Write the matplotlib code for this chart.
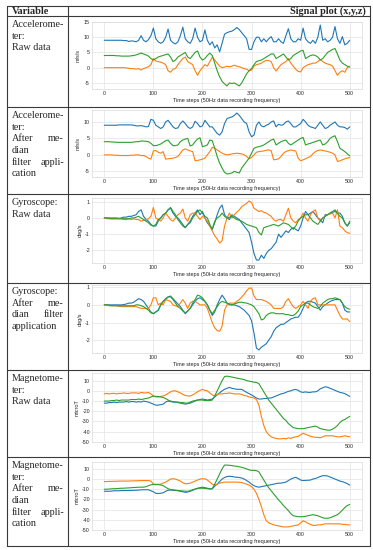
import numpy as np
import matplotlib
matplotlib.use('Agg')
import matplotlib.pyplot as plt
from matplotlib.ticker import MultipleLocator
import seaborn as sns

sns.set_style('whitegrid')
plt.rcParams['font.family'] = ['Liberation Sans', 'DejaVu Sans']
plt.rcParams['axes.unicode_minus'] = False

# time steps (samples read every 5 steps)
t = list(range(0, 501, 5))

# accelerometer, raw
acc_raw_x = [9, 9, 9, 9, 9, 9, 9, 9, 8.9, 8.9,
             8.6, 8.8, 8.7, 8.5, 9, 10.5, 9, 8.5, 9.2, 10.5,
             13, 9.5, 8.5, 8, 8.5, 10, 12.7, 9, 8.2, 7.8,
             8.5, 10.5, 13.3, 9.5, 8.5, 8, 9.5, 13, 10, 8.5,
             9, 12.4, 9, 7.5, 8.5, 6.5, 7.5, 5.2, 8, 11,
             11.5, 11.8, 12, 12.5, 13.2, 12.5, 11.5, 10.5, 9.5, 6,
             6, 8.5, 10, 10, 8.5, 9.5, 8.5, 9.5, 10.2, 8.5,
             8.5, 9.5, 8.5, 8, 10.5, 12.8, 9.5, 8.5, 8.5, 9.5,
             9, 13, 9.5, 8.5, 8, 9, 8, 10, 14, 9,
             9.5, 8.5, 9, 10, 13.5, 9.5, 8, 10.2, 7.5, 8,
             9]
acc_raw_y = [0, 0, 0, 0, 0, 0, 0, 0, 0, -0.1,
             -0.2, -0.3, -0.3, -0.5, -0.3, -0.8, -0.3, 0, 0.3, 1,
             3, 2.2, 2, 1.8, 1.5, 1, -1, -1.5, -0.5, -0.3,
             1, 2, 3, 3.5, 2, 1.5, 1, -1, -2.5, -1,
             0, 1, 0.5, 2, 3.5, 2.5, 1.5, 0.5, 0, 0.2,
             0.5, 0.3, 0.5, 0.8, 0.5, 0.3, 0, -0.3, -0.5, -1,
             -0.8, 0.5, 1, 1.2, 1.5, 2, 2.4, 2.3, 2, 0,
             -1.1, 0, 1, 1.5, 2, 3, 1.5, 0.5, -0.5, -1.2,
             -1.4, 0, 0.5, 1, 1.2, 1.5, 1.5, 2, 2.7, 2,
             1.5, 1.2, 1, 0.5, -1, -2.5, -1.5, -1, -1.5, 0,
             0.5]
acc_raw_z = [4, 4, 4, 4, 4, 3.9, 3.9, 3.8, 3.8, 3.8,
             3.8, 3.9, 4, 4.2, 4.5, 4.8, 4.5, 4.2, 3.8, 3,
             2.5, 3, 3.5, 3.8, 4, 4.3, 4.5, 3.5, 2, 2.5,
             3.5, 4, 4.5, 5, 3.5, 3, 4, 5, 5.5, 3.5,
             2.5, 3, 4, 4.8, 4, 1.5, -1, -3, -4.5, -5.3,
             -6, -5, -5.2, -5, -5.5, -6, -5, -3.5, -2, -1,
             -0.3, 1, 2, 2.3, 2.5, 3, 3.5, 4, 4.5, 4.5,
             3, 3.5, 4, 4.5, 3.5, 2.5, 3, 4, 4.5, 5,
             5.5, 5.7, 3, 3.5, 4, 4.2, 4, 3.5, 2.5, 3,
             4, 5, 5.5, 6, 6.3, 4.5, 2.5, 1.5, 1, 0.5,
             0.2]

# accelerometer, median filtered
acc_filt_x = [9, 9, 9, 9, 9, 9, 9.1, 9.1, 9.1, 9.1,
              9.1, 9.1, 9, 8.8, 8.8, 8.9, 8.7, 8.5, 8.6, 10.8,
              10.5, 9, 8.5, 8, 8.5, 10, 10.5, 9.5, 8.5, 8,
              8.2, 9.5, 10.3, 9.5, 8.5, 8, 8.5, 10.2, 9.5, 8.5,
              8.8, 10.5, 9.5, 8.5, 8.5, 7.5, 6.5, 6, 7, 9.5,
              11, 11.3, 11.5, 12, 12.7, 12, 11, 10, 9.5, 7,
              5.5, 6, 9, 10, 8.8, 8.5, 9, 9.3, 10, 10.3,
              8.5, 9.3, 9, 9.2, 10, 10.3, 9.5, 8.5, 8.5, 9,
              9.5, 10.8, 10, 9, 8.5, 8.3, 8, 9, 10, 9,
              8, 8.3, 9, 9.5, 10, 9, 8.5, 8.5, 8.3, 7.8,
              8.5]
acc_filt_y = [0, 0, 0, 0, -0.1, -0.1, -0.2, -0.2, -0.2, -0.2,
              -0.2, -0.1, -0.1, 0, 0, -0.2, -0.2, -0.5, -1, -1.3,
              1.2, 1.3, 0.8, 0.5, 1, -1.3, -1.2, -1.1, -1, -0.8,
              -0.5, 0.5, 1.5, 1.8, 1.5, 1.2, 1, -1.8, -1.7, -1.5,
              -1.3, -1, 0, 1, 2.3, 2, 1.5, 1, 0.5, 0.2,
              0, 0.1, 0.3, 0.4, 0.5, 0.4, 0.3, 0, -0.5, -1.2,
              -0.8, 0, 0.8, 1, 1.1, 1.2, 1.4, 1.5, 1.3, -1.5,
              -1.4, -1.2, -0.5, 0.5, 1, 1.3, 1.5, 1.3, 1.2, -1,
              -1.8, -1.5, -1.2, -0.8, -0.5, 0.3, 1, 1.3, 1.5, 1.3,
              1.2, 1, 0.8, 0.5, 0, -2, -1.8, -1.5, -1.2, -1,
              -0.8]
acc_filt_z = [4, 4, 4, 3.9, 3.9, 3.8, 3.8, 3.8, 3.8, 3.8,
              3.8, 3.8, 3.9, 4, 4, 4.2, 4.2, 4.1, 4, 3.5,
              2.8, 2.8, 3, 3.3, 3.8, 4.3, 4.5, 3.5, 2.8, 2.8,
              3, 4, 4.5, 4.8, 5, 2.7, 3, 4, 4.8, 5.2,
              2.5, 2.7, 3, 4.5, 4.3, 2, -0.5, -2.5, -4, -5.3,
              -5.8, -5.7, -5.5, -5, -5.3, -5.5, -4, -3, -2, -1,
              0.5, 2, 2.3, 2.5, 2.7, 3, 3.5, 4, 4.5, 4.8,
              3, 3.5, 4, 4.3, 4.5, 3.5, 3, 3.5, 4, 4.5,
              5, 5.3, 3, 3.3, 3.5, 3.8, 4, 4.3, 4.5, 3,
              3.3, 4, 5, 5.5, 5.8, 4, 2, 1.5, 1, 0.3,
              -0.3]

# gyroscope, raw
gyr_raw_x = [0, 0, 0, 0, 0, 0, -0.02, 0, 0.05, 0.05,
             0.1, 0.1, 0.15, 0.2, 0.4, 0.5, 0.1, -0.1, -0.2, -0.4,
             -0.5, -0.5, -0.2, 0, 0.2, 0.3, 0.5, 0.6, 0.3, 0.1,
             0, -0.2, -0.4, -0.6, -0.4, -0.2, 0.1, 0.3, 0.5, 0.2,
             0.4, 0, -0.3, -0.5, -0.7, -0.3, 0.2, 0.6, 0.8, 0.2,
             0, -0.1, 0.2, 0.1, 0, -0.1, -0.3, -0.5, -0.7, -0.9,
             -1.5, -2.2, -2.6, -2.6, -2.3, -2.5, -2.2, -2.0, -1.9, -1.7,
             -1.5, -1.0, -1.2, -1.0, -0.8, -0.9, -0.7, -0.6, -0.7, -0.8,
             -0.5, 0, 0.4, 0.2, 0.3, 0.4, 0.2, 0, -0.1, -0.3,
             0.2, 0.2, 0.3, 0.35, 0.4, 0.3, 0.3, 0.1, -0.3, -0.5,
             -0.3]
gyr_raw_y = [0, -0.05, -0.05, -0.05, -0.05, -0.05, -0.05, -0.05, -0.1, -0.1,
             -0.05, -0.1, -0.05, -0.1, -0.1, -0.2, -0.15, -0.1, -0.05, 0.1,
             0.65, 0, -0.1, -0.2, 0, 0.3, 0.1, -0.1, -0.2, 0,
             0.2, 0.3, 0.55, 0, -0.2, 0.2, 0.3, 0.3, 0.1, -0.1,
             0.1, 0, -0.2, -0.5, -0.8, -1.1, -1.3, -1.55, -1.4, -0.5,
             0, 0.3, 0, 0.2, 0.35, 0.5, 0.7, 0.8, 0.9, 1.05,
             0.95, 0.6, 0.5, 0.4, 0.45, 0.35, 0.3, 0.2, 0.1, -0.1,
             -0.2, -0.1, -0.1, -0.2, 0.2, 0.6, 0, -0.2, -0.3, -0.1,
             0, 0.3, 0, -0.2, 0.2, 0.4, 0.5, 0, -0.2, 0,
             0.1, 0.2, 0.25, 0.3, 0, 0.5, -0.5, -0.6, -0.8, -0.9,
             -0.95]
gyr_raw_z = [0, 0, -0.03, -0.05, -0.05, -0.05, -0.05, -0.05, -0.05, -0.05,
             -0.05, 0, 0, 0.05, 0.1, 0, -0.1, -0.2, -0.3, -0.45,
             -0.5, -0.4, -0.1, 0, 0.2, 0.3, 0.5, 0.65, 0.4, 0.2,
             -0.1, -0.3, -0.5, -0.6, -0.4, -0.3, 0, 0.2, 0.4, 0.5,
             0.3, 0.1, 0, -0.4, -0.7, -0.2, 0, 0.1, 0.3, 0.1,
             0, 0.05, 0.1, 0, -0.1, -0.15, -0.2, -0.3, -0.4, -0.45,
             -0.5, -0.55, -0.6, -0.9, -1.05, -0.6, -0.55, -0.5, -0.45, -0.4,
             -0.45, -0.5, -0.4, -0.3, -0.35, -0.4, -0.55, -0.7, -0.5, -0.2,
             0, 0.1, 0.2, 0.2, 0, -0.2, -0.3, -0.4, -0.2, 0,
             0.1, 0.2, 0.3, 0.4, 0.5, 0.3, 0.1, 0, -0.3, -0.5,
             -0.2]

# gyroscope, median filtered
gyr_filt_x = [0, 0, 0, 0, 0, 0, 0, 0, 0.02, 0.05,
              0.1, 0.1, 0.15, 0.25, 0.35, 0.3, 0.2, 0, -0.2, -0.4,
              -0.5, -0.4, -0.3, 0, 0.2, 0.3, 0.45, 0.5, 0.35, 0.2,
              0.05, -0.1, -0.3, -0.5, -0.35, -0.2, 0, 0.2, 0.35, 0.4,
              0.3, 0.2, 0, -0.3, -0.6, -0.4, 0, 0.3, 0.55, 0.35,
              0.1, 0, 0, 0, -0.05, -0.1, -0.2, -0.3, -0.45, -0.6,
              -0.9, -1.6, -2.45, -2.55, -2.4, -2.3, -2.2, -2.0, -1.8, -1.5,
              -1.3, -1.2, -1.1, -1.1, -1.0, -0.9, -0.8, -0.75, -0.7, -0.7,
              -0.5, -0.2, 0.1, 0.2, 0.2, 0.15, 0.1, -0.1, -0.3, -0.1,
              0, 0.1, 0.2, 0.25, 0.3, 0.3, 0.3, 0.1, -0.3, -0.4,
              -0.4]
gyr_filt_y = [0, -0.02, -0.05, -0.05, -0.05, -0.05, -0.08, -0.1, -0.1, -0.1,
              -0.1, -0.1, -0.1, -0.1, -0.15, -0.2, -0.2, -0.2, -0.2, 0,
              0.4, 0.4, 0, 0.1, 0, 0.3, 0.25, 0.2, 0, -0.05,
              -0.1, 0.1, 0.3, 0.1, -0.2, 0.1, 0.2, 0.2, 0.1, 0,
              0, 0, -0.2, -0.6, -1.0, -1.3, -1.45, -1.5, -1.2, -0.3,
              0, 0.1, 0.1, 0.1, 0.2, 0.3, 0.45, 0.6, 0.8, 0.95,
              0.95, 0.5, 0.3, 0.3, 0.3, 0.25, 0.2, 0.1, 0, -0.2,
              -0.2, -0.2, -0.2, -0.1, 0.2, 0.35, 0.1, -0.1, -0.2, -0.1,
              0, 0.2, 0, -0.2, 0.2, 0.35, 0.4, 0, 0, 0,
              0, 0, 0, 0, 0, -0.3, -0.6, -0.8, -0.8, -0.8,
              -0.95]
gyr_filt_z = [0, 0, -0.02, -0.05, -0.05, -0.05, -0.05, -0.05, -0.05, -0.05,
              -0.05, -0.05, -0.05, 0, 0, -0.05, -0.1, -0.2, -0.3, -0.45,
              -0.5, -0.4, -0.3, 0, 0.2, 0.35, 0.45, 0.45, 0.3, 0.1,
              -0.1, -0.2, -0.35, -0.45, -0.35, -0.2, 0.1, 0.3, 0.55, 0.5,
              0.4, 0.2, 0, -0.3, -0.5, -0.3, -0.1, 0.1, 0.2, 0.15,
              0.1, 0.05, 0, 0.05, 0.1, 0.15, 0.15, 0.12, 0.1, 0.05,
              0, -0.1, -0.3, -0.5, -0.85, -0.8, -0.6, -0.5, -0.45, -0.45,
              -0.5, -0.5, -0.5, -0.5, -0.55, -0.55, -0.6, -0.6, -0.5, -0.35,
              -0.1, 0, 0.1, 0.1, 0, -0.1, -0.15, -0.2, -0.1, 0.1,
              0.2, 0.3, 0.35, 0.35, 0.4, 0.35, 0.3, 0.1, -0.1, -0.2,
              -0.25]

# magnetometer, raw
mag_raw_x = [-12, -12, -11.5, -11.5, -11, -11.5, -11, -11, -11, -10.5,
             -11, -10.5, -10.5, -11, -10.5, -11, -10, -10.5, -11, -12,
             -13, -14, -14, -13.5, -13, -11, -10, -10.5, -11, -11,
             -11.5, -12, -12.5, -13, -12.5, -12, -11, -10, -9, -8.5,
             -8, -8.5, -9, -8.5, -8, -6, -4, -2, 0, 1.5,
             2.5, 3.4, 2.5, 2, 1.5, 1.5, 1.4, 0, -1.5, -2.7,
             -4, -5.5, -7, -8, -8, -7.5, -7.5, -7, -7, -6,
             -5, -4, -3, -2.5, -1.5, -0.5, 0, 1, 1.4, 0.5,
             -1, -1.5, -1, -1.5, -1.5, -1, -1, 0, 2, 3,
             4, 3.5, 2.5, 1.5, 0.5, -0.5, -1.5, -2, -2.7, -4,
             -5.5]
mag_raw_y = [-3, -2.5, -3, -2.5, -2.5, -3, -2.5, -2.5, -2, -2.5,
             -2.5, -2, -2, -2, -2.5, -1.5, -2, -2, -1.5, -3,
             -5, -6, -6, -5.5, -5, -4, -2.5, -1, 0, 0,
             -1, -2, -3.5, -4.5, -5, -5, -4, -2.5, -1, 0.5,
             1.4, 0.5, 0, -2, -4, -5, -3.5, -3, -3, -2.5,
             -2.5, -2, -2.5, -3, -3, -3, -3.5, -4.5, -5, -6,
             -6.5, -7, -8.5, -14, -25, -34, -40, -43, -45, -46,
             -46.5, -47, -47, -46.5, -47, -46, -46.5, -45.5, -45, -44.5,
             -43, -41.5, -42.5, -43.5, -44.5, -45, -45.5, -45.5, -46, -45,
             -44, -44, -44, -44, -44.5, -45, -45, -44.5, -44, -44.5,
             -45]
mag_raw_z = [-10, -10, -10, -9.5, -9.5, -9, -9.5, -9, -9, -9,
             -9, -8.5, -8.5, -8.5, -8, -8.5, -8, -7.5, -7, -6,
             -5, -5.5, -5.5, -6, -6.5, -7.5, -9, -10, -10.5, -11,
             -11, -11.5, -11.5, -12, -12, -11, -10, -9.5, -9, -9,
             -9, -9.5, -9.5, -9.5, -9, -5, 0, 5, 10, 14,
             14.4, 14, 13.5, 13, 12.5, 12, 11.5, 11, 10, 9.5,
             9, 8.5, 8.2, 7, 3, -1, -5, -9, -12, -15,
             -18, -21, -24, -27, -29, -32, -34, -36, -36.5, -37,
             -37, -37, -36.5, -36, -35.5, -35, -34.5, -35.5, -37, -37.5,
             -38, -38.5, -38.5, -37.5, -36, -34, -31, -29, -28, -26.5,
             -25]

# magnetometer, median filtered
mag_filt_x = [-12, -12, -12, -11.8, -11.5, -11.5, -11.5, -11.3, -11.3, -11.3,
              -11.2, -11.2, -11, -11, -10.8, -10.6, -10.5, -10.5, -10.5, -11.5,
              -12.5, -14, -14.2, -14, -13.5, -12, -11, -10.8, -11, -11.2,
              -11.5, -12, -12.5, -13, -12.7, -12, -11, -10, -9, -8.5,
              -8, -8.5, -9, -9.5, -9.5, -7, -5, -2.5, 0, 1.5,
              2.5, 2.7, 2.5, 2, 1.8, 1.5, 1, 0, -1.5, -3,
              -5, -6.5, -7.5, -8, -7.5, -7, -6.5, -6, -5.5, -5,
              -4.5, -4, -4, -3.5, -3, -1.5, 0, 1, 1.7, 0.5,
              -1, -1.5, -1.3, -1.2, -1, 0, 0.5, 1.5, 2.5, 3.3,
              3.3, 3, 2, 1, 0, -1, -2, -2.5, -3.5, -4.5,
              -6]
mag_filt_y = [-2.5, -2.5, -2.3, -2.3, -2.2, -2.2, -2, -2, -2, -2,
              -2, -1.8, -1.8, -1.7, -1.6, -1.5, -1.5, -1.5, -1.5, -2,
              -5, -5.2, -5.2, -5, -4, -3, -1.5, 0, 0.3, 0,
              -1, -2, -3.5, -4.7, -4.5, -4, -3, -2, -1, 0,
              0.3, 0.3, -1, -3, -5, -6, -5, -4, -3.5, -3,
              -3, -3, -3, -3, -3, -3.2, -3.5, -4.2, -5, -6,
              -7.5, -10, -14, -20, -27, -35, -41, -43, -44, -45,
              -45.5, -46, -46.5, -47, -47, -47, -46.5, -46, -45.5, -45,
              -43, -41, -42, -43.5, -44.5, -45.5, -45.5, -45, -45, -44.5,
              -44, -44, -44, -44, -44, -44, -44, -44.5, -44.5, -45,
              -45]
mag_filt_z = [-10, -10, -9.8, -9.6, -9.5, -9.4, -9.2, -9, -9, -8.8,
              -8.7, -8.5, -8.3, -8.2, -8, -8, -8, -7.5, -6.5, -5.7,
              -5.3, -5.5, -5.5, -5.8, -6.5, -8, -9.5, -10.3, -10.6, -11,
              -11.2, -11.5, -11.7, -12, -12, -11.5, -10.5, -9.8, -9.3, -9,
              -9, -9.2, -9.5, -9.8, -9.5, -5, 0, 5, 10, 13.7,
              13.7, 13.5, 13.2, 12.8, 12.5, 12, 11.5, 10.8, 10, 9,
              8.5, 8.5, 8.3, 7, 3, -1, -5, -8.5, -11.5, -14.5,
              -17.5, -20.5, -23, -26, -28.5, -31, -34, -36, -36.5, -37,
              -37, -37, -36.5, -36, -35.5, -35, -35.5, -36, -37, -38,
              -38.5, -38.5, -38, -37, -36, -35, -33, -30.5, -28, -26,
              -25]

row_labels = [
    ['Accelerome-', 'ter:', 'Raw data'],
    ['Accelerome-', 'ter:', 'After  me-', 'dian', 'filter  appli-', 'cation'],
    ['Gyroscope:', 'Raw data'],
    ['Gyroscope:', 'After  me-', 'dian  filter', 'application'],
    ['Magnetome-', 'ter:', 'Raw data'],
    ['Magnetome-', 'ter:', 'After  me-', 'dian', 'filter  appli-', 'cation'],
]
units = ['m/s/s', 'm/s/s', 'deg/s', 'deg/s', 'microT', 'microT']
ytick_steps = [5, 5, 1, 1, 10, 10]
signals = [
    (acc_raw_x, acc_raw_y, acc_raw_z),
    (acc_filt_x, acc_filt_y, acc_filt_z),
    (gyr_raw_x, gyr_raw_y, gyr_raw_z),
    (gyr_filt_x, gyr_filt_y, gyr_filt_z),
    (mag_raw_x, mag_raw_y, mag_raw_z),
    (mag_filt_x, mag_filt_y, mag_filt_z),
]
xlabel = 'Time steps (50Hz data recording frequency)'

W, H = 373, 550
fig = plt.figure(figsize=(W / 100, H / 100), dpi=100)

# table frame drawn in pixel coordinates
bg = fig.add_axes([0, 0, 1, 1])
bg.set_xlim(0, W)
bg.set_ylim(H, 0)
bg.axis('off')
bg.set_zorder(-1)

row_tops = [16, 107, 194, 283, 370, 457]
table_bottom = 546
lc = '#3a3a3a'
for yy in [6] + row_tops + [table_bottom]:
    bg.plot([7, 370], [yy, yy], color=lc, lw=0.8)
for xx in [7, 68, 370]:
    bg.plot([xx, xx], [6, table_bottom], color=lc, lw=0.8)

serif = ['Liberation Serif', 'DejaVu Serif']
bg.text(12, 11.2, 'Variable', family=serif, weight='bold', fontsize=7.4,
        ha='left', va='center')
bg.text(366, 11.2, 'Signal plot (x,y,z)', family=serif, weight='bold',
        fontsize=7.4, ha='right', va='center')

for top, lines in zip(row_tops, row_labels):
    for i, line in enumerate(lines):
        yy = top + 8.5 + i * 11.7
        if '  ' in line:
            left, right = line.split('  ')
            bg.text(12, yy, left, family=serif, fontsize=7.3, ha='left', va='center')
            bg.text(64, yy, right, family=serif, fontsize=7.3, ha='right', va='center')
        else:
            bg.text(12, yy, line, family=serif, fontsize=7.3, ha='left', va='center')

# plot boxes (pixel top/bottom)
boxes = [(22, 89), (110, 177), (198, 263), (285, 353), (373, 442), (462, 530)]
ax_left, ax_right = 92, 362
colors = ['#1f77b4', '#ff7f0e', '#2ca02c']

for (top, bot), sig, unit, step in zip(boxes, signals, units, ytick_steps):
    ax = fig.add_axes([ax_left / W, 1 - bot / H, (ax_right - ax_left) / W, (bot - top) / H])
    for vals, c in zip(sig, colors):
        ax.plot(t, vals, color=c, lw=0.8)
    ax.set_xticks([0, 100, 200, 300, 400, 500])
    ax.yaxis.set_major_locator(MultipleLocator(step))
    ax.tick_params(labelsize=3.8, pad=1.5, length=0)
    ax.set_xlabel(xlabel, fontsize=4, labelpad=1.5)
    ax.set_ylabel(unit, fontsize=4, labelpad=2)
    ax.grid(True, color='#e3e3e3', lw=0.5)
    for s in ax.spines.values():
        s.set_color('#d9d9d9')
        s.set_linewidth(0.5)

fig.savefig('out.png', dpi=100)
